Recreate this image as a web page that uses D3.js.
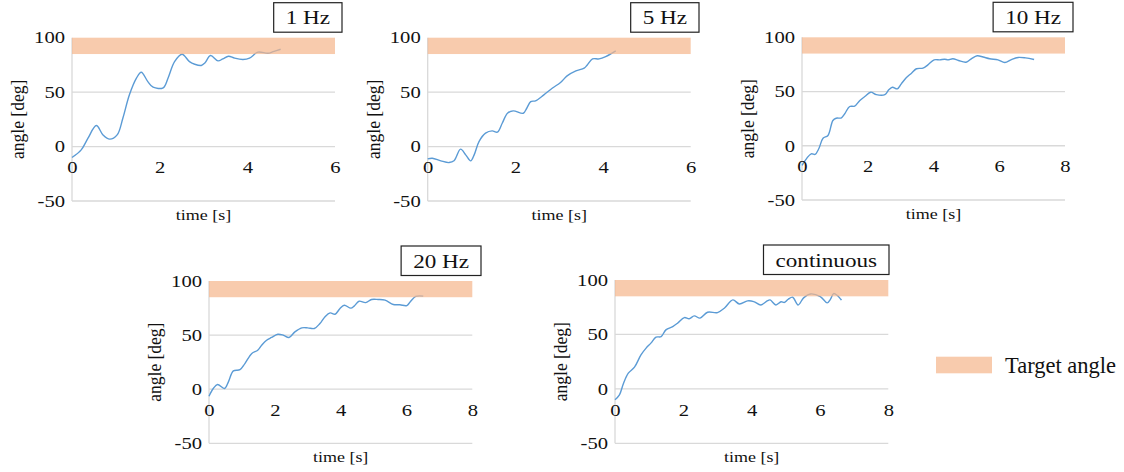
<!DOCTYPE html>
<html>
<head>
<meta charset="utf-8">
<script src="https://cdn.jsdelivr.net/npm/d3@7"></script>
<style>
  body { margin: 0; background: #fff; }
  svg { display: block; }
  svg text { font-family: "Liberation Serif", "Times New Roman", serif; }
</style>
</head>
<body>
<div id="chart"></div>
<script>
// data
const time1Hz = [0, 0.21, 0.365, 0.555, 0.707, 0.86, 1.03, 1.16, 1.31, 1.47, 1.58, 1.73, 1.85, 2.08, 2.19, 2.34, 2.51, 2.68, 2.8, 2.95, 3.03, 3.16, 3.33, 3.44, 3.57, 3.71, 3.9, 4.05, 4.24, 4.47, 4.59, 4.76];
const angle1Hz = [-10, -3, 7.7, 19.3, 10.7, 6.8, 10.7, 26, 47.5, 62.8, 68.3, 59.7, 54.5, 54, 62.8, 78, 84.8, 78, 75.6, 74.5, 76.7, 83.6, 78.7, 80.5, 83, 81.2, 80, 81.2, 86.7, 85.7, 87.2, 89.4];

const time5Hz = [0, 0.105, 0.3, 0.486, 0.6, 0.75, 0.867, 0.98, 1.06, 1.17, 1.32, 1.47, 1.59, 1.7, 1.82, 1.95, 2.18, 2.26, 2.35, 2.46, 2.65, 2.84, 3.03, 3.18, 3.38, 3.57, 3.64, 3.76, 3.91, 4.06, 4.29];
const angle5Hz = [-11.3, -10.7, -13.1, -14.7, -13.1, -2.4, -7.6, -13.1, -7.6, 4.6, 12.3, 14.4, 13.2, 21.4, 30.6, 32.8, 30.6, 35.2, 41.3, 42, 47.5, 53.6, 58.8, 64.9, 69.5, 72, 75, 80.5, 80.5, 82.6, 87.9];

const time10Hz = [0, 0.28, 0.4, 0.51, 0.64, 0.79, 0.94, 1.04, 1.2, 1.3, 1.45, 1.6, 1.76, 1.91, 2.09, 2.26, 2.52, 2.64, 2.75, 2.9, 3.02, 3.17, 3.33, 3.48, 3.68, 3.83, 4.02, 4.19, 4.34, 4.44, 4.59, 4.76, 4.99, 5.15, 5.33, 5.51, 5.71, 5.96, 6.17, 6.37, 6.57, 6.8, 7.06];
const angle10Hz = [-18, -7.4, -8, -2.8, 7, 9.5, 23.3, 25.4, 25.7, 29.5, 36.2, 36.5, 41.8, 45.4, 49.4, 47.2, 47.2, 51.6, 54, 52.5, 57.1, 62.7, 66.9, 71, 71.6, 74.6, 79.2, 79.2, 79.8, 79.2, 80.2, 78.6, 77, 80.2, 83, 81.8, 80.2, 79.2, 76.8, 79.5, 81.4, 81, 79.5];

const time20Hz = [0, 0.13, 0.26, 0.47, 0.59, 0.74, 0.94, 1.09, 1.3, 1.48, 1.6, 1.75, 1.9, 2.09, 2.26, 2.43, 2.61, 2.82, 3.0, 3.2, 3.37, 3.52, 3.68, 3.83, 3.98, 4.11, 4.31, 4.41, 4.56, 4.76, 4.94, 5.14, 5.35, 5.6, 5.8, 6.01, 6.11, 6.28, 6.51];
const angle20Hz = [-6.5, 0.6, 4.3, 0.6, 6.8, 16.9, 18, 23.7, 33, 36, 40.7, 45.3, 47.8, 50.8, 49.9, 47.8, 53, 56.7, 56.7, 56.1, 60.7, 66.8, 70.5, 69.3, 74.6, 77.6, 74.9, 76.8, 81.3, 80, 82.9, 82.9, 82.3, 78.3, 78, 77.3, 80.6, 85.7, 86];

const timeCont = [0, 0.13, 0.25, 0.39, 0.57, 0.76, 0.91, 1.05, 1.2, 1.35, 1.49, 1.69, 1.83, 2.03, 2.17, 2.32, 2.49, 2.71, 3.0, 3.2, 3.45, 3.64, 3.88, 4.06, 4.27, 4.47, 4.54, 4.71, 4.86, 4.96, 5.07, 5.2, 5.36, 5.52, 5.72, 6.01, 6.21, 6.3, 6.4, 6.5, 6.63];
const angleCont = [-10, -5.5, 5.2, 14.4, 19.9, 31.2, 37.4, 42, 47.5, 48, 54.2, 57.2, 60.3, 65.5, 64.4, 67, 65, 70.4, 70.1, 74.1, 81.7, 78, 80.8, 80.2, 77.1, 81.1, 81.7, 77.1, 80, 79.4, 82.3, 84.2, 77.1, 83.6, 87.2, 84.8, 79, 82, 87.5, 86, 81.5];

const panelNames = ['1 Hz', '5 Hz', '10 Hz', '20 Hz', 'continuous'];
const yTicks = [-50, 0, 50, 100];
const xTicksShort = [0, 2, 4, 6];
const xTicksLong = [0, 2, 4, 6, 8];
const targetLow = 85;
const targetHigh = 100;
const legendLabel = 'Target angle';

const panels = [
    { name: panelNames[0], t: time1Hz, a: angle1Hz, ticks: xTicksShort },
    { name: panelNames[1], t: time5Hz, a: angle5Hz, ticks: xTicksShort },
    { name: panelNames[2], t: time10Hz, a: angle10Hz, ticks: xTicksLong },
    { name: panelNames[3], t: time20Hz, a: angle20Hz, ticks: xTicksLong },
    { name: panelNames[4], t: timeCont, a: angleCont, ticks: xTicksLong },
];

// layout (pixel boxes of each plot area, and where the name box ends)
const layout = [
    { x0: 72, x1: 335, top: 37.7, bottom: 201, boxRight: 342 },
    { x0: 427.7, x1: 690.7, top: 37.7, bottom: 201, boxRight: 699 },
    { x0: 802, x1: 1065, top: 37.3, bottom: 200, boxRight: 1073 },
    { x0: 209, x1: 472.3, top: 281, bottom: 443.3, boxRight: 481 },
    { x0: 615, x1: 888.3, top: 280, bottom: 443.3, boxRight: 889 },
];

const width = 1124;
const height = 472;
const sx = 1.25; // the panels look stretched sideways
const lineColor = '#5b9bd5';
const bandColor = '#f5b58a';
const gridColor = '#d9d9d9';
const textColor = '#111';
const serif = '"Liberation Serif", "Times New Roman", serif';
const fmt = (d) => String(d);

const svg = d3
    .select('#chart')
    .append('svg')
    .attr('width', width)
    .attr('height', height);

panels.forEach((p, i) => {
    const L = layout[i];
    const xMax = p.ticks[p.ticks.length - 1];
    const x = d3.scaleLinear().domain([0, xMax]).range([L.x0, L.x1]);
    const y = d3.scaleLinear().domain([-50, 100]).range([L.bottom, L.top]);
    const g = svg.append('g');

    // gridlines
    g.selectAll('line.grid')
        .data(yTicks.filter((d) => d < 100))
        .enter()
        .append('line')
        .attr('class', 'grid')
        .attr('x1', L.x0)
        .attr('x2', L.x1)
        .attr('y1', (d) => y(d))
        .attr('y2', (d) => y(d))
        .attr('stroke', gridColor)
        .attr('stroke-width', 1.3);

    // left axis line
    g.append('line')
        .attr('x1', L.x0)
        .attr('x2', L.x0)
        .attr('y1', y(100))
        .attr('y2', y(-50))
        .attr('stroke', gridColor)
        .attr('stroke-width', 1.3);

    // curve
    const line = d3
        .line()
        .x((d) => x(d[0]))
        .y((d) => y(d[1]))
        .curve(d3.curveCatmullRom.alpha(0.5));

    g.append('path')
        .datum(d3.zip(p.t, p.a))
        .attr('d', line)
        .attr('fill', 'none')
        .attr('stroke', lineColor)
        .attr('stroke-width', 1.4);

    // target band, drawn over the line
    g.append('rect')
        .attr('x', L.x0)
        .attr('y', y(targetHigh))
        .attr('width', L.x1 - L.x0)
        .attr('height', y(targetLow) - y(targetHigh))
        .attr('fill', bandColor)
        .attr('fill-opacity', 0.7);

    // y axis labels
    const yAxis = g
        .append('g')
        .attr('transform', `translate(${L.x0},0)`)
        .call(
            d3.axisLeft(y).tickValues(yTicks).tickFormat(fmt).tickSize(0).tickPadding(7)
        )
        .attr('font-family', serif);
    yAxis.select('.domain').remove();
    yAxis
        .selectAll('text')
        .attr('x', -7 / sx)
        .attr('transform', `scale(${sx},1)`)
        .style('font-size', '16.5px')
        .attr('fill', textColor);

    // x axis labels, below the zero line
    const xAxis = g
        .append('g')
        .attr('transform', `translate(0,${y(0)})`)
        .call(
            d3.axisBottom(x).tickValues(p.ticks).tickFormat(fmt).tickSize(0).tickPadding(15)
        )
        .attr('font-family', serif);
    xAxis.select('.domain').remove();
    xAxis.selectAll('.tick').each(function () {
        const tr = d3.select(this).attr('transform');
        d3.select(this).attr('transform', `${tr} scale(${sx},1)`);
    });
    xAxis
        .selectAll('text')
        .style('font-size', '16.5px')
        .attr('fill', textColor);

    // axis titles
    g.append('text')
        .attr('transform', `translate(${(L.x0 + L.x1) / 2},${L.bottom + 19}) scale(1.2,1)`)
        .attr('text-anchor', 'middle')
        .style('font-size', '15px')
        .attr('fill', textColor)
        .text('time [s]');

    g.append('text')
        .attr('transform', `translate(${L.x0 - 48},${(L.top + L.bottom) / 2}) scale(1.1,1) rotate(-90)`)
        .attr('text-anchor', 'middle')
        .style('font-size', '17.5px')
        .attr('fill', textColor)
        .text('angle [deg]');

    // name box
    const box = g.append('rect');
    const label = g
        .append('text')
        .attr('text-anchor', 'end')
        .style('font-size', '18.5px')
        .attr('fill', textColor)
        .text(p.name);
    const tw = label.node().getComputedTextLength() * sx;
    const boxH = 29.5;
    const boxBottom = L.top - 5.5;
    const boxW = tw + 24;
    box.attr('x', L.boxRight - boxW)
        .attr('y', boxBottom - boxH)
        .attr('width', boxW)
        .attr('height', boxH)
        .attr('fill', '#fff')
        .attr('stroke', '#222')
        .attr('stroke-width', 1.2);
    label.attr(
        'transform',
        `translate(${L.boxRight - 12},${boxBottom - 8}) scale(${sx},1)`
    );
});

// legend
const legend = svg.append('g').attr('transform', 'translate(936,356.7)');
legend
    .append('rect')
    .attr('width', 56)
    .attr('height', 16.6)
    .attr('fill', '#f8cbad');
legend
    .append('text')
    .attr('x', 69)
    .attr('y', 16.5)
    .style('font-size', '22.5px')
    .attr('fill', textColor)
    .text(legendLabel);
</script>
</body>
</html>
